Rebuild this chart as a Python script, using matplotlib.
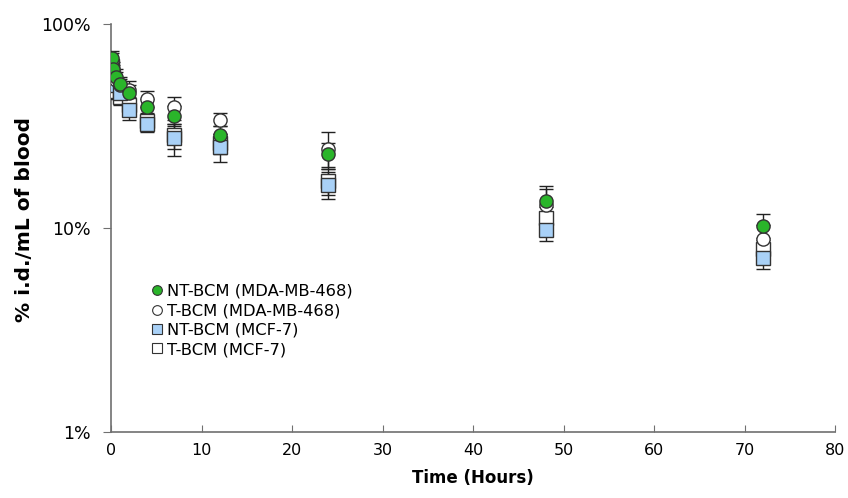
import matplotlib
matplotlib.use("Agg")
import matplotlib.pyplot as plt
from matplotlib.lines import Line2D
from matplotlib.ticker import FixedLocator, FixedFormatter, NullLocator

# ---- data ----
time_h = [0.083, 0.25, 0.5, 1, 2, 4, 7, 12, 24, 48, 72]

nt_mda = [68, 60, 55, 51, 46, 39, 35.5, 28.5, 23, 13.5, 10.2]
nt_mda_err = [6, 5, 5, 4, 4, 4, 4, 3, 3, 2.5, 1.5]

t_mda = [66, 58, 53, 50, 47.5, 43, 39, 34, 24.5, 13, 8.8]
t_mda_err = [6, 5, 5, 4, 5, 4, 5, 2.5, 5, 2.5, 1.5]

nt_mcf = [62, 55, 50, 46, 38, 32.5, 27.5, 25, 16.3, 9.8, 7.1]
nt_mcf_err = [5, 5, 4, 4, 4, 3, 5, 4, 2.5, 1.2, 0.8]

t_mcf = [58, 52, 47, 44, 40, 33.5, 28.5, 26, 17, 11.2, 7.9]
t_mcf_err = [5, 5, 4, 4, 4, 3, 4, 3, 2.5, 1.5, 1.0]

labels = ["NT-BCM (MDA-MB-468)", "T-BCM (MDA-MB-468)", "NT-BCM (MCF-7)", "T-BCM (MCF-7)"]
y_ticks = [1, 10, 100]
y_ticklabels = ["1%", "10%", "100%"]
x_ticks = [0, 10, 20, 30, 40, 50, 60, 70, 80]

# ---- style ----
green = "#2ab52a"
blue = "#a9d1f7"
edge = "#333333"
ms = 9.5

fig = plt.figure(figsize=(8.48, 4.98), dpi=100)
ax = fig.add_axes([0.131, 0.1325, 0.854, 0.8195])

series = [
    (t_mcf, t_mcf_err, "s", "white"),
    (nt_mcf, nt_mcf_err, "s", blue),
    (t_mda, t_mda_err, "o", "white"),
    (nt_mda, nt_mda_err, "o", green),
]
for vals, err, mk, fc in series:
    ax.errorbar(time_h, vals, yerr=err, fmt=mk, ms=ms, mfc=fc, mec=edge, mew=1.0,
                ecolor="#222222", elinewidth=1.0, capsize=5, capthick=1.0, zorder=3)

ax.set_yscale("log")
ax.set_ylim(1, 100)
ax.set_xlim(0, 80)
ax.yaxis.set_major_locator(FixedLocator(y_ticks))
ax.yaxis.set_major_formatter(FixedFormatter(y_ticklabels))
ax.yaxis.set_minor_locator(NullLocator())
ax.set_xticks(x_ticks)

for s in ["top", "right"]:
    ax.spines[s].set_visible(False)
for s in ["left", "bottom"]:
    ax.spines[s].set_color("#707070")
    ax.spines[s].set_linewidth(1.2)

ax.tick_params(axis="x", direction="in", length=5, color="#707070", labelsize=11.5, pad=8)
ax.tick_params(axis="y", direction="out", length=6, color="#707070", labelsize=12.5, pad=9)

ax.set_xlabel("Time (Hours)", fontsize=12, fontweight="bold", labelpad=8)
ax.set_ylabel("% i.d./mL of blood", fontsize=14.5, fontweight="bold", labelpad=12)
ax.yaxis.set_label_coords(-0.107, 0.52)

handles = [
    Line2D([], [], ls="none", marker="o", ms=7, mfc=green, mec=edge, mew=0.8),
    Line2D([], [], ls="none", marker="o", ms=7, mfc="white", mec=edge, mew=0.8),
    Line2D([], [], ls="none", marker="s", ms=7, mfc=blue, mec=edge, mew=0.8),
    Line2D([], [], ls="none", marker="s", ms=7, mfc="white", mec=edge, mew=0.8),
]
ax.legend(handles, labels, loc="upper left", bbox_to_anchor=(0.045, 0.383), frameon=False,
          fontsize=11.8, handlelength=0.6, handletextpad=0.35, labelspacing=0.27, borderpad=0)

fig.savefig("out.png", dpi=100)
